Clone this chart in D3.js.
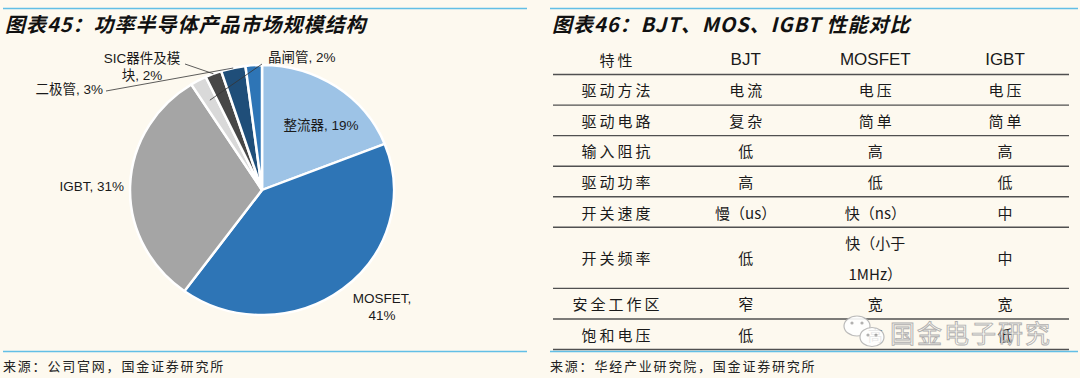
<!DOCTYPE html>
<html lang="zh">
<meta charset="utf-8">
<head>
<script src="https://d3js.org/d3.v7.min.js"></script>
<style>
  body { margin: 0; background: #fdf9ef; }
  svg { display: block; }
</style>
</head>
<body>
<script>
// pie data (clockwise from 12 o'clock)
const sliceNames  = ["整流器", "MOSFET", "IGBT", "晶闸管", "SIC器件及模块", "二极管", "其他"];
const sliceValues = [19, 41, 31, 2, 2, 3, 2];
const sliceShown  = [true, true, true, true, true, true, false];

// table data
const tableHeader = ["特性", "BJT", "MOSFET", "IGBT"];
const features    = ["驱动方法", "驱动电路", "输入阻抗", "驱动功率", "开关速度", "开关频率", "安全工作区", "饱和电压"];
const bjtVals     = ["电流", "复杂", "低", "高", "慢（us）", "低", "窄", "低"];
const mosfetVals  = ["电压", "简单", "高", "低", "快（ns）", "快（小于\n1MHz）", "宽", "高"];
const igbtVals    = ["电压", "简单", "高", "低", "中", "中", "宽", "低"];

const colors = ["#9dc3e6", "#2e75b6", "#a5a5a5", "#d9d9d9", "#474747", "#1f4e79", "#2e75b6"];
const latin = "'Liberation Sans', Arial, 'Noto Sans CJK SC', sans-serif";
const cjk = "'Noto Sans CJK SC', 'Liberation Sans', sans-serif";

const svg = d3.select("body").append("svg")
  .attr("width", 1080).attr("height", 378);

// ---------- frame: title lines, titles, sources ----------
function frame(x0, x1, title, source) {
  svg.append("line").attr("x1", x0).attr("x2", x1).attr("y1", 8.5).attr("y2", 8.5)
    .attr("stroke", "#62bfe6").attr("stroke-width", 1.6);
  svg.append("text").attr("x", x0 + 2).attr("y", 32)
    .attr("font-family", cjk).attr("font-size", 20).attr("font-weight", "bold")
    .attr("font-style", "italic").attr("letter-spacing", 1).attr("fill", "#111")
    .text(title);
  svg.append("line").attr("x1", x0).attr("x2", x1).attr("y1", 351.5).attr("y2", 351.5)
    .attr("stroke", "#62bfe6").attr("stroke-width", 1.6);
  svg.append("text").attr("x", x0).attr("y", 371)
    .attr("font-family", cjk).attr("font-size", 13).attr("letter-spacing", 1.8)
    .attr("fill", "#222").text(source);
}
frame(3, 527, "图表45：功率半导体产品市场规模结构", "来源：公司官网，国金证券研究所");

// table bottom border sits right above the source line
svg.append("line").attr("x1", 553).attr("x2", 1069).attr("y1", 349.5).attr("y2", 349.5)
  .attr("stroke", "#505050").attr("stroke-width", 1.6);
frame(550, 1078, "图表46：BJT、MOS、IGBT 性能对比", "来源：华经产业研究院，国金证券研究所");

// ---------- pie ----------
const cx = 262, cy = 190, R = 125, sx = 1.056;
const pie = d3.pie().sort(null).value(d => d)(sliceValues);
const arc = d3.arc().innerRadius(0).outerRadius(R);

const gPie = svg.append("g").attr("transform", `translate(${cx},${cy}) scale(${sx},1)`);
gPie.selectAll("path").data(pie).join("path")
  .attr("d", arc)
  .attr("fill", (d, i) => colors[i])
  .attr("stroke", "#fff").attr("stroke-width", 2.4);

function pt(d, frac) {
  const a = (d.startAngle + d.endAngle) / 2;
  return [cx + sx * R * frac * Math.sin(a), cy - R * frac * Math.cos(a)];
}

// label placement: anchor point, text-anchor, wrap position
const labelPos = [
  {x: 321, y: 125, anchor: "middle"},
  {x: 382, y: 298, anchor: "middle", wrap: "MOSFET,".length},
  {x: 124, y: 186, anchor: "end"},
  {x: 268, y: 57, anchor: "start", lead: [262, 64], frac: 0.82},
  {x: 142, y: 58, anchor: "middle", wrap: "SIC器件及模".length, lead: [185, 64], frac: 1.0},
  {x: 103, y: 89, anchor: "end", lead: [106, 91], frac: 1.0},
  null
];

const gLab = svg.append("g");
pie.forEach((d, i) => {
  if (!sliceShown[i]) return;
  const p = labelPos[i];
  const full = `${sliceNames[i]}, ${sliceValues[i]}%`;
  const lines = p.wrap ? [full.slice(0, p.wrap).trim(), full.slice(p.wrap).trim()] : [full];
  const t = gLab.append("text")
    .attr("font-family", latin).attr("font-size", 13.5).attr("fill", "#1a1a1a")
    .attr("text-anchor", p.anchor).attr("dominant-baseline", "central");
  lines.forEach((s, k) => t.append("tspan").attr("x", p.x).attr("y", p.y + k * 16.5).text(s));
  if (p.lead) {
    const e = pt(d, p.frac);
    gLab.append("line")
      .attr("x1", p.lead[0]).attr("y1", p.lead[1]).attr("x2", e[0]).attr("y2", e[1])
      .attr("stroke", "#333").attr("stroke-width", 0.8);
  }
});

// ---------- table ----------
const rowUnits = features.map(f => f === "开关频率" ? 2 : 1);
const cum = [0, 1];
rowUnits.forEach(u => cum.push(cum[cum.length - 1] + u));
const yT = d3.scaleLinear().domain([0, cum[cum.length - 1]]).range([44, 349.5]);
const xT = d3.scalePoint().domain(tableHeader).range([616, 1005]);

const gTab = svg.append("g");
// row separators (skip the last, drawn as bottom border)
cum.slice(1, -1).forEach(c => {
  gTab.append("line").attr("x1", 553).attr("x2", 1069)
    .attr("y1", yT(c)).attr("y2", yT(c))
    .attr("stroke", "#505050").attr("stroke-width", 1.4);
});

function cell(col, rowIdx, txt) {
  const top = yT(cum[rowIdx]), bot = yT(cum[rowIdx + 1]);
  const lines = txt.split("\n");
  const isLatin = /^[A-Za-z0-9 ]+$/.test(txt);
  const isCjk = /^[\u4e00-\u9fff]+$/.test(txt);
  const ls = isCjk ? 3 : 0;
  const lh = 31;
  const mid = (top + bot) / 2;
  lines.forEach((s, k) => {
    gTab.append("text")
      .attr("x", xT(col) + ls / 2)
      .attr("y", mid + (k - (lines.length - 1) / 2) * lh)
      .attr("text-anchor", "middle").attr("dominant-baseline", "central")
      .attr("font-family", isLatin ? latin : cjk)
      .attr("font-size", isLatin ? 17 : 15)
      .attr("letter-spacing", ls).attr("fill", "#1a1a1a")
      .text(s);
  });
}
tableHeader.forEach(h => cell(h, 0, h));
features.forEach((f, i) => {
  cell("特性", i + 1, f);
  cell("BJT", i + 1, bjtVals[i]);
  cell("MOSFET", i + 1, mosfetVals[i]);
  cell("IGBT", i + 1, igbtVals[i]);
});

// ---------- watermark (sits over the last row, as in the source image) ----------
const wm = svg.append("g").attr("opacity", 0.9);
wm.append("ellipse").attr("cx", 857).attr("cy", 326).attr("rx", 13).attr("ry", 10)
  .attr("fill", "#fff").attr("stroke", "#b5b5b5").attr("stroke-width", 1.2);
wm.append("ellipse").attr("cx", 872).attr("cy", 337).attr("rx", 12).attr("ry", 9.5)
  .attr("fill", "#fff").attr("stroke", "#b5b5b5").attr("stroke-width", 1.2);
[[852, 323], [862, 323], [868, 335], [876, 335]].forEach(c =>
  wm.append("circle").attr("cx", c[0]).attr("cy", c[1]).attr("r", 1.6).attr("fill", "#aaa"));
wm.append("text").attr("x", 890).attr("y", 343)
  .attr("font-family", cjk).attr("font-size", 25).attr("letter-spacing", 2)
  .attr("fill", "#fff").attr("fill-opacity", 0.55)
  .attr("stroke", "#a8a8a8").attr("stroke-width", 0.9)
  .text("国金电子研究");
</script>
</body>
</html>
